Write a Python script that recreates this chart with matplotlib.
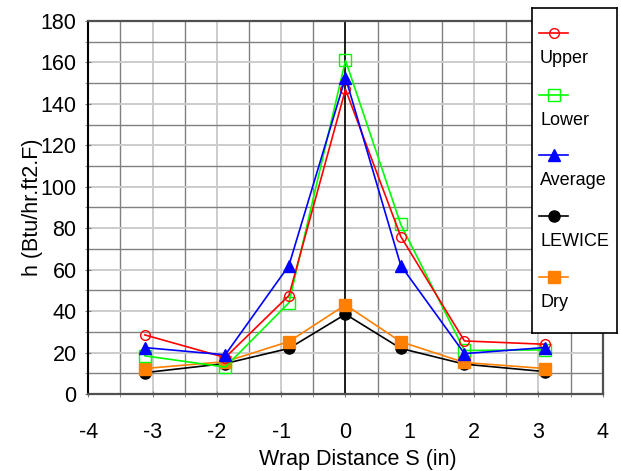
import matplotlib.pyplot as plt
from matplotlib.ticker import MultipleLocator

plt.rcParams['font.family'] = ['Liberation Sans', 'DejaVu Sans']
plt.rcParams['axes.unicode_minus'] = False

# wrap distance positions (in)
s = [-3.12, -1.87, -0.88, 0.0, 0.86, 1.85, 3.10]

# heat transfer coefficient h (Btu/hr.ft2.F)
upper = [28.5, 17.6, 47.5, 147, 76, 25.6, 24]
lower = [18.4, 13, 44, 161, 81.8, 21, 21.3]
average = [22.4, 18.9, 62, 152.7, 62, 19.5, 22.4]
lewice = [10.3, 14.7, 22, 38.5, 22, 14.4, 10.8]
dry = [12.3, 15.6, 25.3, 43, 25.2, 15.2, 12.3]

names = ["Upper", "Lower", "Average", "LEWICE", "Dry"]
styles = [
    dict(color="#ff0000", marker="o", mfc="none", ms=7, mew=1.0),
    dict(color="#00ff00", marker="s", mfc="none", ms=8, mew=1.0),
    dict(color="#0000ff", marker="^", mfc="#0000ff", ms=9, mew=1.0),
    dict(color="#000000", marker="o", mfc="#000000", ms=8, mew=1.0),
    dict(color="#ff8000", marker="s", mfc="#ff8000", ms=8, mew=1.0),
]
series = [upper, lower, average, lewice, dry]

fig = plt.figure(figsize=(6.21, 4.71), dpi=100)
ax = fig.add_axes([0.1422, 0.1635, 0.8283, 0.7919])

# grid: light at major, darker at minor
ax.set_xlim(-4, 4)
ax.set_ylim(0, 180)
ax.xaxis.set_major_locator(MultipleLocator(1))
ax.xaxis.set_minor_locator(MultipleLocator(0.5))
ax.yaxis.set_major_locator(MultipleLocator(20))
ax.yaxis.set_minor_locator(MultipleLocator(10))
ax.grid(which="major", color="#cccccc", lw=1.4)
ax.grid(which="minor", color="#808080", lw=1.0)
ax.set_axisbelow(True)

ax.axvline(0, color="black", lw=1.2, zorder=1.5)

# draw order: LEWICE under Dry, then the others
for i in [3, 4, 1, 0, 2]:
    ax.plot(s, series[i], lw=1.2, zorder=3, **styles[i])

ax.tick_params(which="both", direction="inout", length=5, color="#808080",
               labelsize=15.5)
ax.tick_params(axis="x", pad=18)
ax.tick_params(axis="y", pad=6)

ax.spines["left"].set_color("black")
ax.spines["left"].set_linewidth(1.5)
for side in ["top", "right", "bottom"]:
    ax.spines[side].set_color("#505050")
    ax.spines[side].set_linewidth(1.6)

ax.set_xlabel("Wrap Distance S (in)", fontsize=15.5)
ax.xaxis.set_label_coords(0.523, -0.148)
ax.set_ylabel("h (Btu/hr.ft2.F)", fontsize=15.5)
ax.yaxis.set_label_coords(-0.089, 0.5)

# stacked legend box: marker row above each label
lax = fig.add_axes([531.7 / 621, 1 - 333 / 471, 85 / 621, 324.7 / 471])
lax.set_xlim(531.7, 616.7)
lax.set_ylim(333, 8.3)
lax.set_xticks([])
lax.set_yticks([])
for sp in lax.spines.values():
    sp.set_linewidth(1.2)
    sp.set_color("black")
row_y = [33, 95, 155, 216, 277]
for i, name in enumerate(names):
    lax.plot([539, 568], [row_y[i]] * 2, lw=1.2, color=styles[i]["color"])
    lax.plot([553.5], [row_y[i]], ls="none", **styles[i])
    lax.text(540, row_y[i] + 25, name, fontsize=13, va="center", ha="left")

fig.savefig("out.png", dpi=100)
